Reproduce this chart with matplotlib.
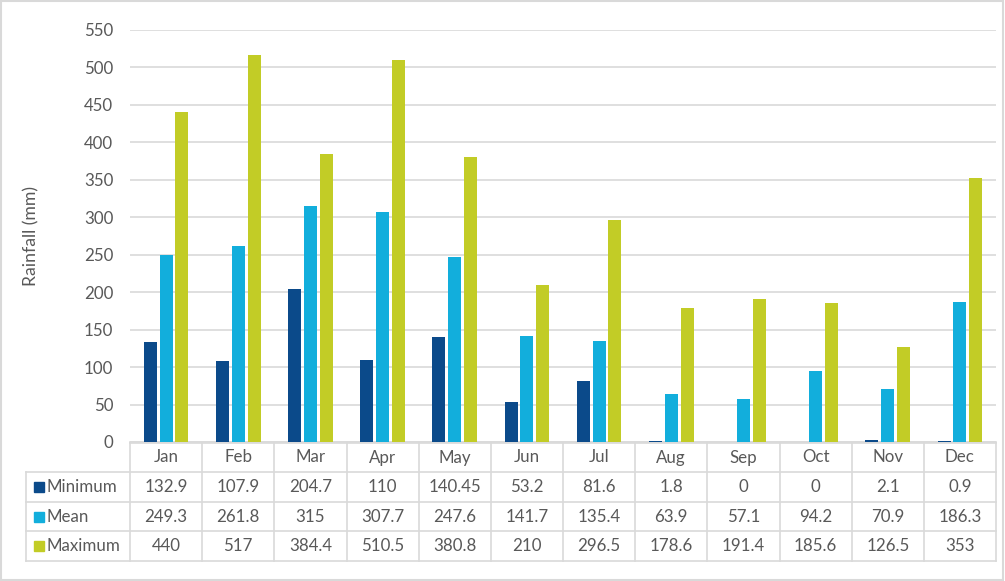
import matplotlib
matplotlib.use("Agg")
import matplotlib.pyplot as plt
from matplotlib.lines import Line2D
from matplotlib.patches import Rectangle

months = ["Jan", "Feb", "Mar", "Apr", "May", "Jun", "Jul", "Aug", "Sep", "Oct", "Nov", "Dec"]
minimum = [132.9, 107.9, 204.7, 110, 140.45, 53.2, 81.6, 1.8, 0, 0, 2.1, 0.9]
mean = [249.3, 261.8, 315, 307.7, 247.6, 141.7, 135.4, 63.9, 57.1, 94.2, 70.9, 186.3]
maximum = [440, 517, 384.4, 510.5, 380.8, 210, 296.5, 178.6, 191.4, 185.6, 126.5, 353]
series_names = ["Minimum", "Mean", "Maximum"]
yticks = [0, 50, 100, 150, 200, 250, 300, 350, 400, 450, 500, 550]

colors = ["#0B4A8A", "#12AEDC", "#C2CC26"]
grid_c = "#D9D9D9"
text_c = "#595959"
plt.rcParams['font.family'] = ['Lato', 'DejaVu Sans']
FS = 12.2

W, H = 1005, 581
fig = plt.figure(figsize=(W / 100, H / 100), dpi=100)

# plot area in pixels
L, R, T, B = 130, 996, 30, 442
ax = fig.add_axes([L / W, 1 - B / H, (R - L) / W, (B - T) / H])
n = len(months)
xs = list(range(n))
offsets = [-0.22, 0.0, 0.22]
bw = 0.18
for data, off, c in zip([minimum, mean, maximum], offsets, colors):
    ax.bar([x + off for x in xs], data, width=bw, color=c, zorder=3)
ax.set_xlim(-0.5, n - 0.5)
ax.set_ylim(0, 550)
ax.set_yticks(yticks)
ax.set_yticklabels([str(t) for t in yticks], fontsize=FS, color=text_c)
ax.tick_params(axis='y', length=0, pad=12)
ax.set_xticks([])
ax.grid(axis='y', color=grid_c, linewidth=1.2, zorder=0)
for s in ['top', 'right', 'left']:
    ax.spines[s].set_visible(False)
ax.spines['bottom'].set_color(grid_c)
ax.spines['bottom'].set_linewidth(1.2)
ax.set_ylabel("Rainfall (mm)", fontsize=FS + 0.5, color=text_c)
ax.yaxis.set_label_coords(-(L - 39) / (R - L), 0.5)

# overlay for table (pixel coordinates)
ov = fig.add_axes([0, 0, 1, 1], zorder=-1)
ov.set_xlim(0, W)
ov.set_ylim(H, 0)
ov.axis('off')

# figure border
ov.add_patch(Rectangle((0.5, 0.5), W - 2.5, H - 1.5, fill=False, edgecolor="#D9D9D9", linewidth=1.5))

colw = (R - L) / n
rows_y = [443, 472, 502, 531, 561]
legL = 26
lc = grid_c
# horizontal lines
for i, y in enumerate(rows_y):
    x0 = L if i == 0 else legL
    ov.add_line(Line2D([x0, R], [y, y], color=lc, linewidth=1.2))
# vertical lines
for j in range(n + 1):
    x = L + j * colw
    ov.add_line(Line2D([x, x], [rows_y[0], rows_y[-1]], color=lc, linewidth=1.2))
ov.add_line(Line2D([legL, legL], [rows_y[1], rows_y[-1]], color=lc, linewidth=1.2))

def fmt(v):
    return f"{v:g}"

for j, m in enumerate(months):
    cx = L + (j + 0.5) * colw
    ov.text(cx, (rows_y[0] + rows_y[1]) / 2, m, ha='center', va='center', fontsize=FS, color=text_c)
for r, (name, data, c) in enumerate(zip(series_names, [minimum, mean, maximum], colors)):
    cy = (rows_y[r + 1] + rows_y[r + 2]) / 2
    ov.add_patch(Rectangle((34, cy - 5), 10, 10, color=c))
    ov.text(47, cy, name, ha='left', va='center', fontsize=FS, color=text_c)
    for j, v in enumerate(data):
        cx = L + (j + 0.5) * colw
        ov.text(cx, cy, fmt(v), ha='center', va='center', fontsize=FS, color=text_c)

fig.savefig("out.png", dpi=100)
